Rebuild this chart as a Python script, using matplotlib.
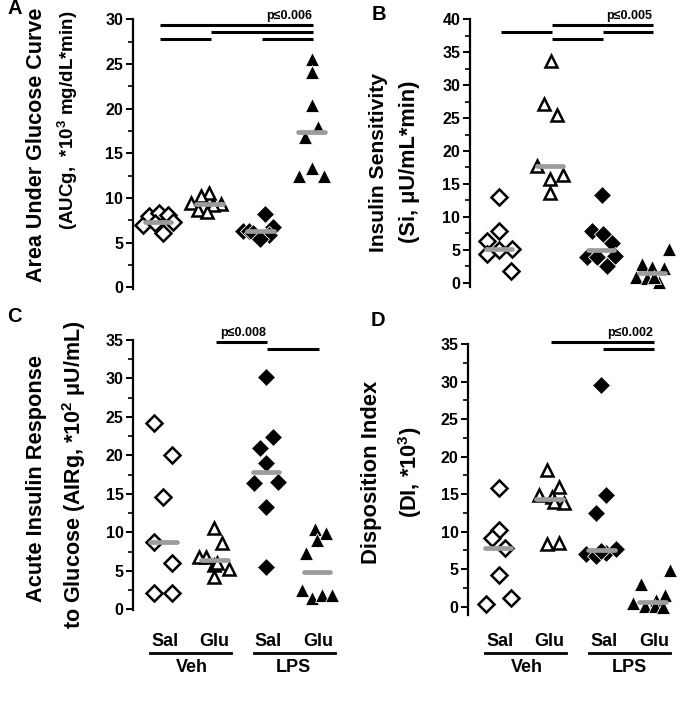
"""Four-panel dot plot: glucose tolerance and insulin measures, Veh/LPS x Sal/Glu
"""

import numpy as np
import matplotlib.pyplot as plt
from matplotlib.transforms import blended_transform_factory

plt.rcParams['font.family'] = ['Liberation Sans', 'DejaVu Sans']
plt.rcParams['font.weight'] = 'bold'
plt.rcParams['mathtext.fontset'] = 'custom'
plt.rcParams['mathtext.rm'] = 'Liberation Sans:bold'
plt.rcParams['mathtext.bf'] = 'Liberation Sans:bold'
plt.rcParams['mathtext.default'] = 'bf'

FIG_W, FIG_H = 683, 727

# group order: Veh-Sal, Veh-Glu, LPS-Sal, LPS-Glu
sub_labels = ['Sal', 'Glu', 'Sal', 'Glu']
main_labels = ['Veh', 'LPS']

# A: area under glucose curve
auc_veh_sal = [7.0, 8.0, 8.3, 8.1, 7.3, 6.1, 7.2]
auc_veh_glu = [10.6, 10.2, 9.4, 9.3, 9.2, 8.6, 8.4]
auc_lps_sal = [8.2, 6.8, 6.3, 6.3, 6.1, 5.8, 5.4]
auc_lps_glu = [25.6, 24.1, 20.4, 17.9, 16.8, 13.4, 12.5, 12.5]

# B: insulin sensitivity
si_veh_sal = [13.0, 7.9, 6.4, 4.3, 4.9, 5.2, 1.8]
si_veh_glu = [33.6, 27.2, 25.5, 17.7, 16.4, 15.7, 13.7]
si_lps_sal = [13.3, 7.9, 7.4, 6.0, 3.95, 3.85, 4.05, 2.5]
si_lps_glu = [5.2, 2.9, 2.4, 2.2, 0.9, 0.65, 0.15, 0.8]

# C: acute insulin response
air_veh_sal = [24.2, 20.1, 14.55, 8.8, 6.0, 2.1, 2.1]
air_veh_glu = [10.5, 8.6, 6.85, 6.85, 5.75, 5.2, 4.24, 6.0]
air_lps_sal = [30.2, 22.35, 21.0, 19.05, 16.45, 16.6, 13.3, 5.55]
air_lps_glu = [10.4, 9.9, 9.0, 7.3, 2.5, 1.4, 1.9, 1.9]

# D: disposition index
di_veh_sal = [15.8, 10.2, 9.2, 7.8, 4.2, 1.1, 0.35]
di_veh_glu = [18.2, 16.0, 14.9, 14.6, 13.8, 8.35, 8.5, 14.0]
di_lps_sal = [29.5, 14.9, 12.5, 7.0, 6.8, 7.2, 7.7, 7.4]
di_lps_glu = [4.9, 3.0, 1.6, 0.9, 0.45, 0.1, 0.1, 0.0]

# horizontal scatter of the points, in pixels of the original figure
jit_a = [[-15, -9, 1, 10, 15, 5, -3],
         [0, -8, -18, 12, 4, -11, -2],
         [4, 12, -18, -12, -8, 8, -1],
         [0, 0, 0, 6, -7, 0, -13, 12]]
jit_b = [[0, 0, -12, -12, 0, 13, 12],
         [1, -6, 7, -13, 13, 0, 0],
         [1, -9, 2, 11, -14, -4, 14, 6],
         [17, -10, 0, 12, -16, -5, 7, 2]]
jit_c = [[-9, 9, 0, -9, 9, -9, 9],
         [-1, 7, -16, -9, -1, 14, -1, 2],
         [0, 7, -6, 0, -12, 12, 0, 0],
         [-2, 9, 0, -11, -15, -5, 5, 15]]
jit_d = [[1, 1, -6, 7, 1, 13, -12],
         [-3, 9, -11, 2, 14, -3, 9, 4],
         [0, 5, -5, -15, -5, 5, 15, 0],
         [17, -12, 12, 3, -20, -8, 2, 10]]

# significance bars: (from group, to group, height)
sig_a = [(1, 4, 29.4), (2, 4, 28.6), (1, 2, 27.8), (3, 4, 27.8)]
sig_b = [(2, 4, 39.1), (1, 2, 38.0), (3, 4, 38.0), (2, 3, 37.0)]
sig_c = [(2, 3, 34.8), (3, 4, 33.8)]
sig_d = [(2, 4, 35.2), (3, 4, 34.3)]

markers = [dict(marker='D', ms=7.8, mfc='white', mec='black', mew=1.8),
           dict(marker='^', ms=9.2, mfc='white', mec='black', mew=1.8),
           dict(marker='D', ms=8.8, mfc='black', mec='white', mew=0.6),
           dict(marker='^', ms=10.4, mfc='black', mec='white', mew=0.6)]


def px(x, y):
    return x / FIG_W, 1 - y / FIG_H


def make_axes(fig, left, top, bottom, width, ymax, ybot, xlim):
    rect = [left / FIG_W, 1 - bottom / FIG_H, width / FIG_W,
            (bottom - top) / FIG_H]
    ax = fig.add_axes(rect)
    ax.set_xlim(*xlim)
    ax.set_ylim(ybot, ymax)
    for side in ['top', 'right', 'bottom']:
        ax.spines[side].set_visible(False)
    ax.spines['left'].set_linewidth(1.6)
    ax.set_xticks([])
    ax.set_yticks(np.arange(0, ymax + 0.1, 5))
    ax.set_yticks(np.arange(0, ymax + 0.1, 2.5), minor=True)
    ax.tick_params(axis='y', which='major', length=5, width=1.4, pad=2,
                   labelsize=11.5)
    ax.tick_params(axis='y', which='minor', length=3.5, width=1.2)
    for lab in ax.get_yticklabels():
        lab.set_fontweight('bold')
    return ax


def dot_panel(ax, series, jitters, spacing, sigs, ptxt, ptxt_xy, ptxt_ha):
    for i, (vals, jit) in enumerate(zip(series, jitters)):
        g = i + 1
        xs = g + np.array(jit) / spacing
        ax.plot(xs, vals, ls='none', clip_on=False, zorder=3, **markers[i])
        med = np.median(vals)
        ax.plot([g - 0.26, g + 0.26], [med, med], color='#9c9c9c', lw=3.4,
                solid_capstyle='round', zorder=4, clip_on=False)
    for g0, g1, y in sigs:
        ax.plot([g0 + 0.03, g1 + 0.03], [y, y], color='black', lw=2.2,
                solid_capstyle='butt', clip_on=False)
    ax.text(ptxt_xy[0], ptxt_xy[1], ptxt, ha=ptxt_ha, va='bottom',
            fontsize=9, fontweight='bold')


def group_labels(fig, ax, y_sub, y_line, y_main):
    tr = blended_transform_factory(ax.transData, fig.transFigure)
    for x, lab in zip([1.04, 2.0, 3.05, 4.02], sub_labels):
        ax.text(x, 1 - y_sub / FIG_H, lab, transform=tr, ha='center',
                va='center', fontsize=13, fontweight='bold')
    for (x0, x1), xm, lab in zip([(0.75, 2.32), (2.76, 4.34)], [1.55, 3.54],
                                 main_labels):
        ax.plot([x0, x1], [1 - y_line / FIG_H] * 2, transform=tr,
                color='black', lw=2.0, clip_on=False)
        ax.text(xm, 1 - y_main / FIG_H, lab, transform=tr, ha='center',
                va='center', fontsize=13, fontweight='bold')


fig = plt.figure(figsize=(FIG_W / 100, FIG_H / 100), dpi=100)

ax_a = make_axes(fig, 133, 19.3, 289.1, 207, 30, -0.2, (0.51, 4.55))
dot_panel(ax_a, [auc_veh_sal, auc_veh_glu, auc_lps_sal, auc_lps_glu],
          jit_a, 51.3, sig_a, 'p≤0.006', (4.0, 29.75), 'right')

ax_b = make_axes(fig, 470, 19.3, 286.7, 210, 40, -0.6, (0.43, 4.55))
dot_panel(ax_b, [si_veh_sal, si_veh_glu, si_lps_sal, si_lps_glu],
          jit_b, 51.0, sig_b, 'p≤0.005', (4.0, 39.6), 'right')

ax_c = make_axes(fig, 133.3, 340, 610, 212, 35, -0.1, (0.415, 4.55))
dot_panel(ax_c, [air_veh_sal, air_veh_glu, air_lps_sal, air_lps_glu],
          jit_c, 51.3, sig_c, 'p≤0.008', (2.55, 35.15), 'center')
group_labels(fig, ax_c, 642, 653, 668)

ax_d = make_axes(fig, 468.3, 344, 615, 213, 35, -1.1, (0.425, 4.55))
dot_panel(ax_d, [di_veh_sal, di_veh_glu, di_lps_sal, di_lps_glu],
          jit_d, 51.7, sig_d, 'p≤0.002', (4.0, 35.7), 'right')
group_labels(fig, ax_d, 642, 653, 668)

# y-axis titles, two lines each
ylab = dict(rotation=90, ha='center', va='center', fontweight='bold')
fig.text(*px(37, 145), 'Area Under Glucose Curve', fontsize=15.5, **ylab)
fig.text(*px(68, 120), '(AUCg,  *10$^{3}$ mg/dL*min)', fontsize=13.5, **ylab)
fig.text(*px(378, 163), 'Insulin Sensitivity', fontsize=15.2, **ylab)
fig.text(*px(410, 162), '(Si, μU/mL*min)', fontsize=15.7, **ylab)
fig.text(*px(37, 478), 'Acute Insulin Response', fontsize=15.7, **ylab)
fig.text(*px(74, 475), 'to Glucose (AIRg, *10$^{2}$ μU/mL)', fontsize=15.5,
         **ylab)
fig.text(*px(372, 472), 'Disposition Index', fontsize=15.8, **ylab)
fig.text(*px(410, 472), '(DI, *10$^{3}$)', fontsize=15.7, **ylab)

# panel letters
for lab, (x, y) in zip('ABCD', [(15, 9), (379, 15), (14, 316), (378, 321)]):
    fig.text(*px(x, y), lab, ha='center', va='center', fontsize=14.5,
             fontweight='bold')

fig.savefig('out.png', dpi=100)
